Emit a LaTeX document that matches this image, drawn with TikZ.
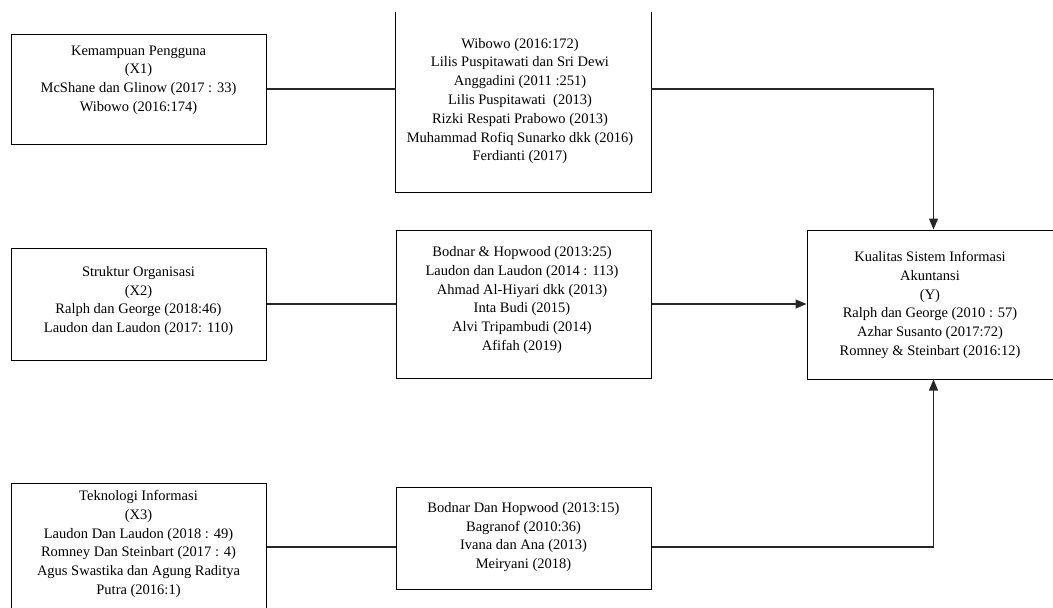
\documentclass[tikz,border=0pt]{standalone}
\usepackage{fontspec}
\setmainfont{Liberation Serif}
\usetikzlibrary{arrows.meta,calc}
\begin{document}
\begin{tikzpicture}[x=1pt,y=-1pt,
  box/.style={draw=black,line width=1pt,rectangle,inner sep=0pt},
  openbox/.style={draw=none,rectangle,inner sep=0pt},
  txt/.style={align=center,inner sep=0pt,font=\fontsize{14.5}{18.8}\selectfont},
  link/.style={draw=black!85,line width=1.2pt},
  arrow/.style={link,-{Triangle[length=11pt,width=9pt]}}]
\useasboundingbox (0,0) rectangle (1053,608);
\begin{scope}
\clip (0,0) rectangle (1053,608);
% boxes
\node[box,minimum width=255pt,minimum height=110pt] (x1) at (138.5,89) {};
\node[openbox,minimum width=255pt,minimum height=180pt] (m1) at (523.5,102) {};
\draw[line width=1pt] (m1.north west) |- (m1.south east) -- (m1.north east);
\node[box,minimum width=255pt,minimum height=112pt] (x2) at (138.5,304) {};
\node[box,minimum width=255pt,minimum height=148pt] (m2) at (523.5,304) {};
\node[box,minimum width=253pt,minimum height=149pt] (y) at (933.5,304.5) {};
\node[box,minimum width=255pt,minimum height=142pt] (x3) at (138.5,554) {};
\node[box,minimum width=255pt,minimum height=102pt] (m3) at (523.5,538) {};
% texts
\node[txt] (tx1) at (138.5,80) {Kemampuan Pengguna\\(X1)\\McShane dan Glinow (2017 : 33)\\Wibowo (2016:174)};
\node[txt] (tm1) at (520,101) {Wibowo (2016:172)\\Lilis Puspitawati dan Sri Dewi\\Anggadini (2011 :251)\\Lilis Puspitawati \ (2013)\\Rizki Respati Prabowo (2013)\\Muhammad Rofiq Sunarko dkk (2016)\\Ferdianti (2017)};
\node[txt] (tx2) at (138.5,301) {Struktur Organisasi\\(X2)\\Ralph dan George (2018:46)\\Laudon dan Laudon (2017: 110)};
\node[txt] (tm2) at (522,300) {Bodnar \& Hopwood (2013:25)\\Laudon dan Laudon (2014 : 113)\\Ahmad Al-Hiyari dkk (2013)\\Inta Budi (2015)\\Alvi Tripambudi (2014)\\Afifah (2019)};
\node[txt] (ty) at (930,305) {Kualitas Sistem Informasi\\Akuntansi\\(Y)\\Ralph dan George (2010 : 57)\\Azhar Susanto (2017:72)\\Romney \& Steinbart (2016:12)};
\node[txt] (tx3) at (138.5,544) {Teknologi Informasi\\(X3)\\Laudon Dan Laudon (2018 : 49)\\Romney Dan Steinbart (2017 : 4)\\Agus Swastika dan Agung Raditya\\Putra (2016:1)};
\node[txt] (tm3) at (523.5,537) {Bodnar Dan Hopwood (2013:15)\\Bagranof (2010:36)\\Ivana dan Ana (2013)\\Meiryani (2018)};
% connectors
\coordinate (c3) at (0,547);
\draw[link] (x1.east) -- (m1.west |- x1.east);
\draw[arrow] (m1.east |- x1.east) -| (y.north);
\draw[link] (x2.east) -- (m2.west);
\draw[arrow] (m2.east) -- (y.west |- m2.east);
\draw[link] (x3.east |- c3) -- (m3.west |- c3);
\draw[arrow] (m3.east |- c3) -| (y.south);
\end{scope}
\end{tikzpicture}
\end{document}
